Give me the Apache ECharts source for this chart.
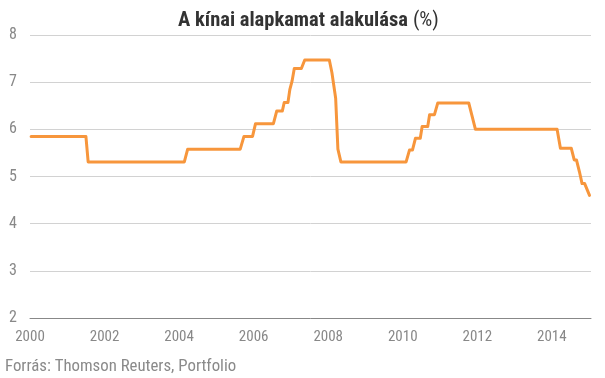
<!DOCTYPE html>
<html>
<head>
<meta charset="utf-8">
<script src="https://cdn.jsdelivr.net/npm/echarts@6/dist/echarts.min.js"></script>
<style>
  html, body { margin: 0; padding: 0; background: #fff; }
  #chart { width: 605px; height: 378px; }
</style>
</head>
<body>
<div id="chart"></div>
<script>
// időpontok (év, tört) és a hozzájuk tartozó kamatszint (%)
const years = [
  2000.03, 2001.50, 2001.56, 2004.14, 2004.23, 2005.64, 2005.74, 2005.97,
  2006.05, 2006.53, 2006.62, 2006.77, 2006.82, 2006.92, 2006.97, 2007.03,
  2007.09, 2007.28, 2007.37, 2008.03, 2008.10, 2008.15, 2008.20, 2008.26,
  2008.34, 2010.09, 2010.18, 2010.26, 2010.34, 2010.47, 2010.52, 2010.67,
  2010.72, 2010.85, 2010.94, 2011.77, 2011.85, 2011.95, 2014.14, 2014.23,
  2014.52, 2014.60, 2014.66, 2014.74, 2014.81, 2014.88, 2015.01
];
const rates = [
  5.85, 5.85, 5.31, 5.31, 5.58, 5.58, 5.85, 5.85,
  6.12, 6.12, 6.39, 6.39, 6.57, 6.57, 6.84, 7.02,
  7.29, 7.29, 7.47, 7.47, 7.20, 6.93, 6.66, 5.58,
  5.31, 5.31, 5.56, 5.56, 5.81, 5.81, 6.06, 6.06,
  6.31, 6.31, 6.56, 6.56, 6.31, 6.00, 6.00, 5.60,
  5.60, 5.35, 5.35, 5.10, 4.85, 4.85, 4.60
];
const yTicks = [2, 3, 4, 5, 6, 7, 8];
const xTicks = [2000, 2002, 2004, 2006, 2008, 2010, 2012, 2014];

const narrow = "'Liberation Sans Narrow', 'Roboto Condensed', Roboto, sans-serif";

let chart = echarts.init(document.getElementById("chart"));
chart.setOption({
  animation: false,
  title: {
    text: "{b|A kínai alapkamat alakulása} {n|(%)}",
    left: 173,
    top: 5,
    textStyle: {
      rich: {
        b: { fontFamily: narrow, fontSize: 20.5, fontWeight: "bold", color: "#333" },
        n: { fontFamily: narrow, fontSize: 20.5, fontWeight: "normal", color: "#333" }
      }
    }
  },
  graphic: [{
    type: "text",
    left: 5,
    top: 358,
    style: { text: "Forrás: Thomson Reuters, Portfolio", font: "16.8px " + narrow, fill: "#8a8a8a" }
  }],
  grid: { left: 30, right: 14, top: 35, bottom: 60 },
  xAxis: {
    type: "value",
    min: 2000,
    max: 2015.05,
    interval: 2,
    axisLine: { show: true, lineStyle: { color: "#888", width: 1 } },
    axisTick: { show: false },
    splitLine: { show: false },
    axisLabel: {
      color: "#888", fontSize: 15, fontFamily: narrow, margin: 12,
      showMaxLabel: false,
      formatter: v => xTicks.indexOf(v) >= 0 ? String(v) : ""
    }
  },
  yAxis: {
    type: "value",
    min: yTicks[0],
    max: yTicks[yTicks.length - 1],
    interval: 1,
    axisLine: { show: false },
    axisTick: { show: false },
    splitLine: { lineStyle: { color: "#d2d2d2", width: 1 } },
    axisLabel: { color: "#888", fontSize: 16, fontFamily: narrow, margin: 13 }
  },
  series: [{
    type: "line",
    data: years.map((y, i) => [y, rates[i]]),
    symbol: "none",
    lineStyle: { color: "#f7963c", width: 3, join: "round", cap: "round" }
  }]
});
</script>
</body>
</html>
